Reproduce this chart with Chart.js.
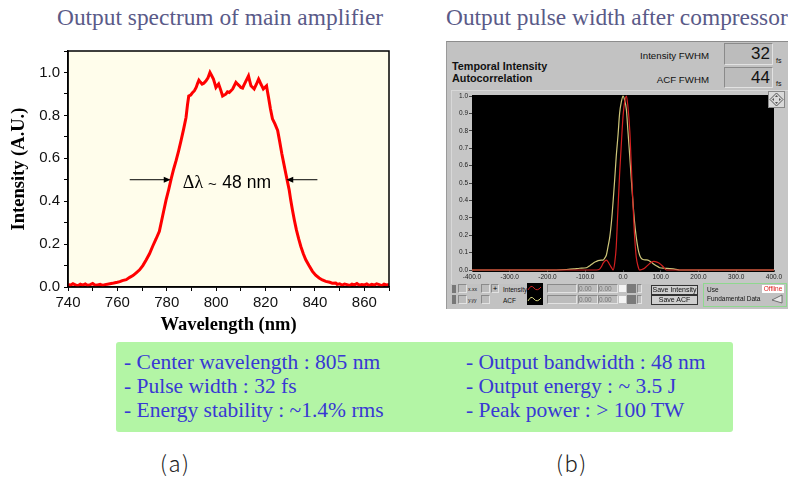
<!DOCTYPE html>
<html><head><meta charset="utf-8">
<script src="https://cdn.jsdelivr.net/npm/chart.js@4.4.1/dist/chart.umd.min.js"></script>
<style>
html,body{margin:0;padding:0;background:#fff;width:788px;height:477px;overflow:hidden;position:relative;font-family:"Liberation Sans",Arial,sans-serif;}
.abs{position:absolute;white-space:nowrap;}
.ttl{font-family:"Liberation Serif","Times New Roman",serif;font-size:23.4px;line-height:23px;color:#5a5a88;}
.spec{font-family:"Liberation Serif","Times New Roman",serif;font-size:21.5px;line-height:24px;color:#3838d4;}
.lv{font-family:"Liberation Sans",Arial,sans-serif;color:#111;}
.tiny{font-size:6.5px;line-height:8px;color:#111;}
.fld{background:#bcbcbc;border-top:1px solid #8a8a8a;border-left:1px solid #8a8a8a;border-right:1px solid #e2e2e2;border-bottom:1px solid #e2e2e2;box-sizing:border-box;}
.btn{background:#cfcfcf;border:1px solid #333;box-sizing:border-box;font-size:7px;line-height:8px;text-align:center;color:#111;}
</style>
</head><body>

<div class="abs ttl" style="left:57px;top:6px;">Output spectrum of main amplifier</div>
<div class="abs ttl" style="left:446px;top:6px;">Output pulse width after compressor</div>

<canvas id="spec" class="abs" width="440" height="340" style="left:0;top:0;"></canvas>

<!-- LabVIEW-like panel (b) -->
<div class="abs" style="left:446px;top:41px;width:350px;height:267px;background:#c2c2c2;border-top:1px solid #8c8c8c;border-left:1px solid #9a9a9a;"></div>
<div class="abs lv" style="left:452px;top:60px;font-size:10.8px;line-height:12px;font-weight:bold;">Temporal Intensity<br>Autocorrelation</div>
<div class="abs lv" style="left:609px;top:50px;width:100px;text-align:right;font-size:9.7px;line-height:12px;">Intensity FWHM</div>
<div class="abs lv" style="left:609px;top:74px;width:100px;text-align:right;font-size:9.7px;line-height:12px;">ACF FWHM</div>
<div class="abs fld lv" style="left:724px;top:43px;width:49px;height:22px;font-size:17px;line-height:20px;text-align:right;padding-right:2px;">32</div>
<div class="abs fld lv" style="left:724px;top:67px;width:49px;height:21px;font-size:17px;line-height:19px;text-align:right;padding-right:2px;">44</div>
<div class="abs lv" style="left:776px;top:57px;font-size:7px;line-height:8px;">fs</div>
<div class="abs lv" style="left:776px;top:80px;font-size:7px;line-height:8px;">fs</div>
<div class="abs" style="left:451px;top:90px;width:337px;height:194px;background:#c6c6c6;border-top:1px solid #d8d8d8;border-left:1px solid #d8d8d8;box-sizing:border-box;"></div>

<canvas id="acf" class="abs" width="342" height="196" style="left:446px;top:88px;"></canvas>

<svg class="abs" style="left:768px;top:91px;" width="17" height="17" viewBox="0 0 17 17">
  <rect x="0.5" y="0.5" width="16" height="16" fill="#dadada" stroke="#888"/>
  <polygon points="8.5,2 15,8.5 8.5,15 2,8.5" fill="none" stroke="#555" stroke-width="1"/>
  <polygon points="8.5,4 10,6 7,6" fill="#555"/><polygon points="8.5,13 10,11 7,11" fill="#555"/>
  <polygon points="4,8.5 6,7 6,10" fill="#555"/><polygon points="13,8.5 11,7 11,10" fill="#555"/>
</svg>

<!-- bottom control strip -->
<div class="abs" style="left:452px;top:285px;width:4px;height:8px;background:#777;"></div>
<div class="abs fld" style="left:458px;top:284px;width:9px;height:9px;"></div>
<div class="abs tiny" style="left:468px;top:285px;font-size:5px;">x.xx</div>
<div class="abs" style="left:452px;top:295px;width:4px;height:9px;background:#777;"></div>
<div class="abs fld" style="left:458px;top:295px;width:9px;height:9px;"></div>
<div class="abs tiny" style="left:468px;top:296px;font-size:5px;">y.yy</div>
<div class="abs fld" style="left:481px;top:284px;width:9px;height:9px;"></div>
<div class="abs fld" style="left:491px;top:284px;width:8px;height:9px;font-size:8px;line-height:7px;text-align:center;">+</div>
<div class="abs fld" style="left:481px;top:295px;width:9px;height:9px;"></div>
<div class="abs tiny" style="left:503px;top:286px;">Intensity</div>
<div class="abs tiny" style="left:503px;top:297px;">ACF</div>
<svg class="abs" style="left:527px;top:283px;" width="16" height="22" viewBox="0 0 16 22">
  <rect x="0" y="0" width="16" height="22" fill="#000"/>
  <path d="M1,7 Q4,1 7,5 T14,4" stroke="#d02020" stroke-width="1" fill="none"/>
  <path d="M1,18 Q4,12 7,16 T14,15" stroke="#d8d880" stroke-width="1" fill="none"/>
</svg>
<div class="abs fld" style="left:547px;top:284px;width:30px;height:9px;"></div>
<div class="abs fld tiny" style="left:578px;top:284px;width:20px;height:9px;color:#777;">0.00</div>
<div class="abs fld tiny" style="left:598px;top:284px;width:20px;height:9px;color:#777;">0.00</div>
<div class="abs" style="left:619px;top:285px;width:7px;height:7px;background:#f4f4f4;"></div>
<div class="abs" style="left:627px;top:284px;width:9px;height:9px;background:#7a7a7a;"></div>
<div class="abs fld" style="left:637px;top:284px;width:5px;height:9px;"></div>
<div class="abs fld" style="left:547px;top:295px;width:30px;height:9px;"></div>
<div class="abs fld tiny" style="left:578px;top:295px;width:20px;height:9px;color:#777;">0.00</div>
<div class="abs fld tiny" style="left:598px;top:295px;width:20px;height:9px;color:#777;">0.00</div>
<div class="abs" style="left:619px;top:296px;width:7px;height:7px;background:#f4f4f4;"></div>
<div class="abs" style="left:627px;top:295px;width:9px;height:9px;background:#7a7a7a;"></div>
<div class="abs fld" style="left:637px;top:295px;width:5px;height:9px;"></div>
<div class="abs btn" style="left:651px;top:285px;width:47px;height:10px;">Save Intensity</div>
<div class="abs btn" style="left:651px;top:295px;width:47px;height:10px;">Save ACF</div>
<div class="abs" style="left:703px;top:283px;width:84px;height:24px;border:1px solid #8fd88f;box-sizing:border-box;"></div>
<div class="abs tiny" style="left:707px;top:286px;">Use</div>
<div class="abs tiny" style="left:762px;top:285px;width:22px;height:8px;background:#fff;color:#e02020;text-align:center;">Offline</div>
<div class="abs tiny" style="left:707px;top:295px;">Fundamental Data</div>
<svg class="abs" style="left:771px;top:294px;" width="12" height="10" viewBox="0 0 12 10">
  <polygon points="1,6 11,1 11,9" fill="#e8e8e8" stroke="#555" stroke-width="0.8"/>
</svg>

<!-- spec box -->
<div class="abs" style="left:116px;top:342px;width:617px;height:90px;background:#b3f5a5;border-radius:3px;"></div>
<div class="abs spec" id="specL" style="left:124px;top:350px;"></div>
<div class="abs spec" id="specR" style="left:466px;top:350px;"></div>

<div class="abs" style="left:160px;top:449px;font-family:'Noto Sans CJK KR','Noto Sans',sans-serif;font-size:22px;line-height:26px;letter-spacing:1.5px;color:#222;font-weight:300;">(a)</div>
<div class="abs" style="left:556px;top:449px;font-family:'Noto Sans CJK KR','Noto Sans',sans-serif;font-size:22px;line-height:26px;letter-spacing:1.5px;color:#222;font-weight:300;">(b)</div>

<script>
// ---------------- data (a) : output spectrum ----------------
const wavelengthNm = [740,741,742,743,744,745,746,747,748,749,750,751,752,753,754,755,756,757,758,759,760,761,762,763.6,765,766.3,767.5,769,770.3,771.7,773,774.3,775.7,777,778.3,779.7,780.8,781.8,782.8,783.8,784.8,785.8,786.8,787.8,788.4,788.9,789.7,790.5,791.2,791.9,792.5,793,793.6,794.3,795,795.9,796.7,797.5,798.2,798.9,799.4,799.9,800.4,801,801.8,802.6,803.3,804,804.6,805.3,806,806.7,807.4,808,808.7,809.4,810,810.7,811.2,811.8,812.5,813.1,813.6,814.1,814.8,815.4,816.3,817.2,817.6,818.1,818.6,819.1,819.7,820.4,820.8,821.2,822,822.8,823.8,824.9,825.7,826.6,827.4,828.2,828.9,829.6,830.2,830.9,831.7,832.5,833.4,834.3,835.3,836.3,837.6,839,840.3,841.7,843,844.4,846,847,848.4,849,850,851,852,853,854,855,856,857,858,859,860,861,862,863,864,865,866,867,868,869,870];
const spectrumIntensity = [0.012,0.008,0.015,0.010,0.006,0.013,0.009,0.014,0.007,0.011,0.016,0.008,0.010,0.012,0.007,0.011,0.013,0.015,0.017,0.020,0.022,0.025,0.030,0.034,0.045,0.053,0.065,0.080,0.100,0.127,0.155,0.190,0.225,0.260,0.330,0.405,0.455,0.505,0.550,0.590,0.635,0.683,0.735,0.790,0.850,0.890,0.895,0.907,0.915,0.930,0.950,0.964,0.955,0.946,0.950,0.961,0.975,1.000,0.985,0.969,0.950,0.930,0.938,0.946,0.920,0.890,0.895,0.900,0.910,0.907,0.915,0.923,0.940,0.954,0.945,0.938,0.930,0.927,0.940,0.954,0.970,0.984,0.960,0.938,0.930,0.923,0.945,0.969,0.960,0.946,0.935,0.923,0.930,0.938,0.910,0.884,0.830,0.784,0.760,0.730,0.680,0.621,0.575,0.529,0.490,0.451,0.405,0.359,0.310,0.266,0.225,0.189,0.155,0.127,0.100,0.073,0.055,0.042,0.033,0.026,0.022,0.018,0.019,0.012,0.015,0.009,0.014,0.011,0.007,0.013,0.010,0.016,0.008,0.012,0.010,0.014,0.007,0.012,0.009,0.015,0.011,0.006,0.013,0.010,0.012];
const wavelengthRange = [740, 870];
const intensityRange = [0, 1.1];
const fwhmLevel = 0.5;
const leftArrowNm = [765, 781.6];
const rightArrowNm = [841, 828.4];
const fwhmLabelNm = [786.5, 802.1];
const fwhmLabel = ["\u0394\u03bb", "~", "48 nm"];

// ---------------- data (b) : autocorrelation ----------------
const acfDelayFs = [-400,-200,-150,-130,-115,-97,-88,-80,-73,-66,-58,-53,-48,-44,-40,-35,-30,-26,-22,-18,-13,-9,-4,0,4,9,13,18,22,26,30,35,40,44,48,53,60,66,73,79,88,97,110,124,140,150,200,400];
const acfValues  = [0,0,0.003,0.006,0.010,0.013,0.025,0.038,0.047,0.054,0.057,0.057,0.070,0.086,0.130,0.190,0.290,0.400,0.520,0.650,0.780,0.900,0.970,1.000,0.980,0.920,0.800,0.650,0.520,0.400,0.290,0.190,0.120,0.086,0.068,0.060,0.058,0.057,0.048,0.038,0.025,0.013,0.010,0.008,0.004,0,0,0];
const intDelayFs = [-400,-70,-62,-57,-53,-48,-44,-40,-35,-30,-26,-22,-18,-14,-9,-4,0,4,9,13,18,22,26,30,35,40,44,50,57,66,75,82,90,97,106,115,400];
const intValues  = [0,0,0.005,0.020,0.038,0.052,0.057,0.048,0.030,0.012,0,0.040,0.130,0.320,0.550,0.740,0.880,0.960,1.000,0.940,0.800,0.600,0.400,0.220,0.076,0.020,0,0.003,0.010,0.028,0.044,0.049,0.045,0.038,0.020,0,0];
const delayRange = [-400, 400];
const acfRange = [0, 1];

// ---------------- spec box text ----------------
const specLeft = ["- Center wavelength : 805 nm", "- Pulse width : 32 fs", "- Energy stability : ~1.4% rms"];
const specRight = ["- Output bandwidth : 48 nm", "- Output energy : ~ 3.5 J", "- Peak power : > 100 TW"];
document.getElementById('specL').innerHTML = specLeft.join('<br>');
document.getElementById('specR').innerHTML = specRight.join('<br>');

// ---------------- chart (a) ----------------
function arrow(ctx, x0, x1, y) {
  const dir = Math.sign(x1 - x0);
  ctx.beginPath(); ctx.moveTo(x0, y); ctx.lineTo(x1 - dir * 5, y); ctx.stroke();
  ctx.beginPath(); ctx.moveTo(x1, y); ctx.lineTo(x1 - dir * 7, y - 3); ctx.lineTo(x1 - dir * 7, y + 3); ctx.closePath(); ctx.fill();
}
const specDecor = {
  id: 'specDecor',
  beforeDraw(chart) {
    const { ctx, chartArea: a } = chart;
    ctx.save(); ctx.fillStyle = '#fffdeb';
    ctx.fillRect(a.left, a.top, a.right - a.left, a.bottom - a.top); ctx.restore();
  },
  afterDraw(chart) {
    const { ctx, chartArea: a, scales: { x, y } } = chart;
    ctx.save();
    ctx.strokeStyle = '#000'; ctx.lineWidth = 1.5;
    ctx.strokeRect(a.left, a.top, a.right - a.left, a.bottom - a.top);
    const yy = y.getPixelForValue(fwhmLevel);
    ctx.lineWidth = 1; ctx.fillStyle = '#000';
    arrow(ctx, x.getPixelForValue(leftArrowNm[0]), x.getPixelForValue(leftArrowNm[1]), yy);
    arrow(ctx, x.getPixelForValue(rightArrowNm[0]), x.getPixelForValue(rightArrowNm[1]), yy);
    ctx.textBaseline = 'alphabetic'; ctx.textAlign = 'left';
    const xd = x.getPixelForValue(fwhmLabelNm[0]);
    ctx.font = '18px "Liberation Serif", serif';
    ctx.fillText(fwhmLabel[0], xd, yy + 8);
    const w = ctx.measureText(fwhmLabel[0]).width;
    ctx.font = '15px "Liberation Sans", Arial, sans-serif';
    ctx.fillText(fwhmLabel[1], xd + w + 5, yy + 9);
    ctx.font = '17.5px "Liberation Sans", Arial, sans-serif';
    ctx.fillText(fwhmLabel[2], x.getPixelForValue(fwhmLabelNm[1]) + 1, yy + 8);
    ctx.restore();
  }
};
new Chart(document.getElementById('spec'), {
  type: 'line',
  data: { datasets: [{
    data: wavelengthNm.map((w, i) => ({ x: w, y: spectrumIntensity[i] })),
    borderColor: '#ff0000', borderWidth: 3, pointRadius: 0, tension: 0, fill: false
  }]},
  options: {
    responsive: false, animation: false, devicePixelRatio: 1,
    layout: { padding: { left: 0, right: 51, top: 51, bottom: 0 } },
    plugins: { legend: { display: false }, tooltip: { enabled: false } },
    scales: {
      x: {
        type: 'linear', min: wavelengthRange[0], max: wavelengthRange[1],
        afterFit(s) { s.height = 53; },
        ticks: { stepSize: 10, autoSkip: false, maxRotation: 0, padding: 3, color: '#111',
          font: { family: '"Liberation Sans", Arial, sans-serif', size: 15 },
          callback: v => (Math.round(v) % 20 === 0 && v < 870) ? String(Math.round(v)) : '' },
        grid: { display: true, drawOnChartArea: false, drawTicks: true, tickLength: 4, color: '#000' },
        border: { display: true, color: '#000', width: 1.5 },
        title: { display: true, text: 'Wavelength (nm)', color: '#000', padding: { top: 0, bottom: 4 },
          font: { family: '"Liberation Serif", "Times New Roman", serif', size: 18.5, weight: 'bold' } }
      },
      y: {
        min: intensityRange[0], max: intensityRange[1],
        afterFit(s) { s.width = 68; },
        ticks: { stepSize: 0.1, autoSkip: false, padding: 4, color: '#111',
          font: { family: '"Liberation Sans", Arial, sans-serif', size: 15 },
          callback: v => { const k = Math.round(v * 10); return (k % 2 === 0 && k <= 10) ? (k / 10).toFixed(1) : ''; } },
        grid: { display: true, drawOnChartArea: false, drawTicks: true, tickLength: 4, color: '#000' },
        border: { display: true, color: '#000', width: 1.5 },
        title: { display: true, text: 'Intensity (A.U.)', color: '#000', padding: { top: 8, bottom: 0 },
          font: { family: '"Liberation Serif", "Times New Roman", serif', size: 18.5, weight: 'bold' } }
      }
    }
  },
  plugins: [specDecor]
});

// ---------------- chart (b) ----------------
const blackPlot = {
  id: 'blackPlot',
  beforeDraw(chart) {
    const { ctx, chartArea: a } = chart;
    ctx.save(); ctx.fillStyle = '#000';
    ctx.fillRect(a.left, a.top - 1, a.right - a.left, a.bottom - a.top + 3); ctx.restore();
  }
};
const tinyFont = { family: '"Liberation Sans Narrow", "Liberation Sans", Arial, sans-serif', size: 6.5 };
new Chart(document.getElementById('acf'), {
  type: 'line',
  data: { datasets: [
    { data: intDelayFs.map((t, i) => ({ x: t, y: intValues[i] })), borderColor: '#d42020', borderWidth: 1.2,
      pointRadius: 0, cubicInterpolationMode: 'monotone', fill: false, order: 1, clip: 3 },
    { data: acfDelayFs.map((t, i) => ({ x: t, y: acfValues[i] })), borderColor: '#cfc77a', borderWidth: 1.2,
      pointRadius: 0, cubicInterpolationMode: 'monotone', fill: false, order: 2, clip: 3 }
  ]},
  options: {
    responsive: false, animation: false, devicePixelRatio: 1,
    layout: { padding: { left: 0, right: 14, top: 8, bottom: 0 } },
    plugins: { legend: { display: false }, tooltip: { enabled: false } },
    scales: {
      x: {
        type: 'linear', min: delayRange[0], max: delayRange[1],
        afterFit(s) { s.height = 14; },
        ticks: { stepSize: 100, autoSkip: false, maxRotation: 0, padding: 1, color: '#222', font: tinyFont,
          callback: v => v.toFixed(1) },
        grid: { display: true, drawOnChartArea: false, drawTicks: true, tickLength: 2, color: '#444' },
        border: { display: false }
      },
      y: {
        min: acfRange[0], max: acfRange[1],
        afterFit(s) { s.width = 26; },
        ticks: { stepSize: 0.1, autoSkip: false, padding: 1, color: '#222', font: tinyFont,
          callback: v => v.toFixed(1) },
        grid: { display: true, drawOnChartArea: false, drawTicks: true, tickLength: 3, color: '#444' },
        border: { display: false }
      }
    }
  },
  plugins: [blackPlot]
});
</script>
</body></html>
